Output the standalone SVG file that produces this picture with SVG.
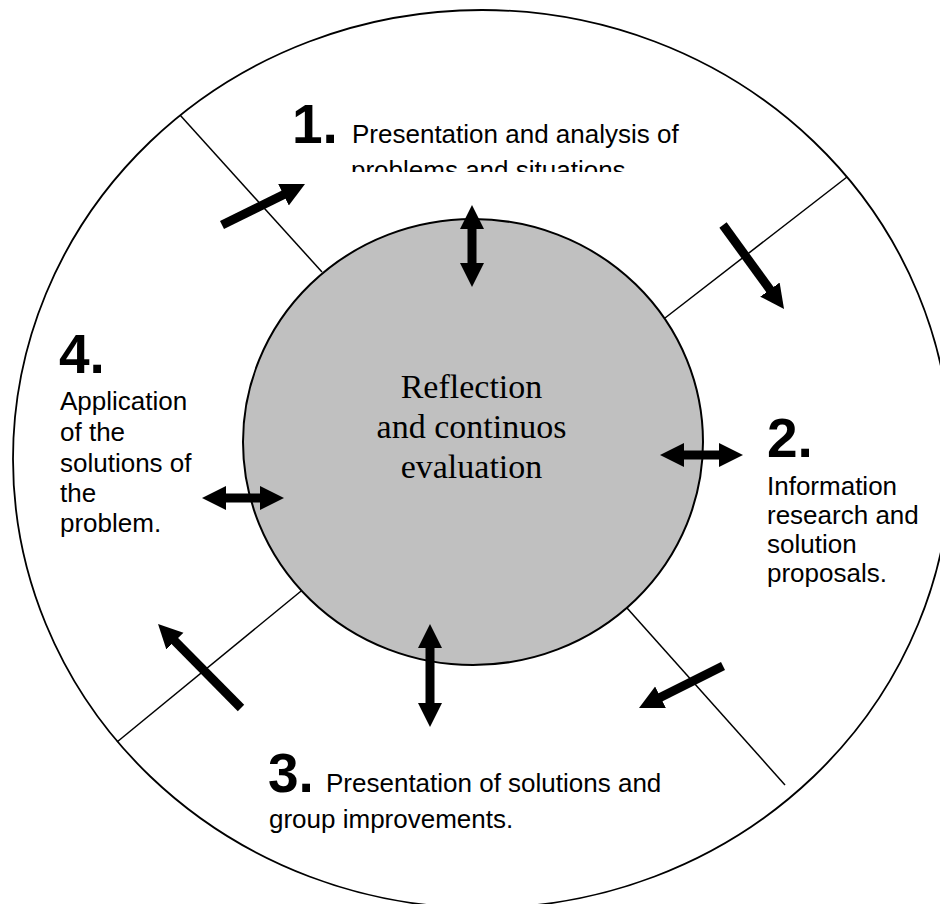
<svg xmlns="http://www.w3.org/2000/svg" width="940" height="904" viewBox="0 0 940 904">
  <style>
    .ring { fill: #ffffff; stroke: #000000; stroke-width: 1.8; }
    .core { fill: #c0c0c0; stroke: #000000; stroke-width: 2; }
    .divider { stroke: #000000; stroke-width: 1.5; fill: none; }
    .arrow { stroke: #000000; stroke-width: 9; fill: none; }
    .num { font-family: "Liberation Sans", Arial, sans-serif; font-weight: bold; font-size: 55px; fill: #000000; }
    .label { font-family: "Liberation Sans", Arial, sans-serif; font-size: 26px; fill: #000000; }
    .center { font-family: "Liberation Serif", "Times New Roman", serif; font-size: 34px; fill: #000000; text-anchor: middle; }
  </style>
  <defs>
    <marker id="head" markerUnits="userSpaceOnUse" markerWidth="26" markerHeight="26" refX="1" refY="12" orient="auto-start-reverse" viewBox="0 0 26 24">
      <path d="M0,0 L24,12 L0,24 Z" fill="#000000"/>
    </marker>
    <clipPath id="stage1Clip">
      <rect x="280" y="80" width="440" height="92"/>
    </clipPath>
  </defs>

  <rect x="0" y="0" width="940" height="904" fill="#ffffff"/>

  <!-- outer ring and the four sector dividers -->
  <g id="ring">
    <ellipse class="ring" cx="482" cy="459" rx="469" ry="449"/>
  </g>
  <g id="dividers">
    <line class="divider" x1="180" y1="115" x2="322" y2="272"/>
    <line class="divider" x1="847" y1="177" x2="665" y2="318"/>
    <line class="divider" x1="627" y1="608" x2="785" y2="785"/>
    <line class="divider" x1="306" y1="587" x2="117" y2="742"/>
  </g>

  <!-- central hub -->
  <g id="hub">
    <ellipse class="core" cx="473" cy="442" rx="230" ry="223"/>
    <text class="center" x="471.5" y="398">Reflection</text>
    <text class="center" x="471.5" y="438">and continuos</text>
    <text class="center" x="471.5" y="478">evaluation</text>
  </g>

  <!-- stage 1 -->
  <g id="stage1">
    <text class="num" x="292" y="143">1.</text>
    <g clip-path="url(#stage1Clip)">
      <text class="label" x="352" y="143">Presentation and analysis of</text>
      <text class="label" x="351" y="179">problems and situations</text>
    </g>
  </g>

  <!-- stage 2 -->
  <g id="stage2">
    <text class="num" x="767" y="457">2.</text>
    <text class="label" x="767" y="495">Information</text>
    <text class="label" x="767" y="524">research and</text>
    <text class="label" x="767" y="553">solution</text>
    <text class="label" x="767" y="582">proposals.</text>
  </g>

  <!-- stage 3 -->
  <g id="stage3">
    <text class="num" x="268" y="792">3.</text>
    <text class="label" x="326" y="792">Presentation of solutions and</text>
    <text class="label" x="269" y="828">group improvements.</text>
  </g>

  <!-- stage 4 -->
  <g id="stage4">
    <text class="num" x="59" y="373">4.</text>
    <text class="label" x="60" y="410">Application</text>
    <text class="label" x="60" y="441">of the</text>
    <text class="label" x="60" y="472">solutions of</text>
    <text class="label" x="60" y="502">the</text>
    <text class="label" x="60" y="532">problem.</text>
  </g>

  <!-- connectors: hub exchanges and the cycle between stages -->
  <g id="connectors">
    <line class="arrow" x1="472" y1="228" x2="472" y2="264" marker-start="url(#head)" marker-end="url(#head)"/>
    <line class="arrow" x1="683" y1="455" x2="720" y2="455" marker-start="url(#head)" marker-end="url(#head)"/>
    <line class="arrow" x1="430" y1="647" x2="430" y2="704" marker-start="url(#head)" marker-end="url(#head)"/>
    <line class="arrow" x1="225" y1="498" x2="261" y2="498" marker-start="url(#head)" marker-end="url(#head)"/>
    <line class="arrow" x1="222" y1="225" x2="284.4" y2="194.2" marker-end="url(#head)"/>
    <line class="arrow" x1="723" y1="225" x2="770.5" y2="290.4" marker-end="url(#head)"/>
    <line class="arrow" x1="723" y1="666" x2="659.6" y2="697.7" marker-end="url(#head)"/>
    <line class="arrow" x1="241" y1="708" x2="174.2" y2="640.4" marker-end="url(#head)"/>
  </g>
</svg>
